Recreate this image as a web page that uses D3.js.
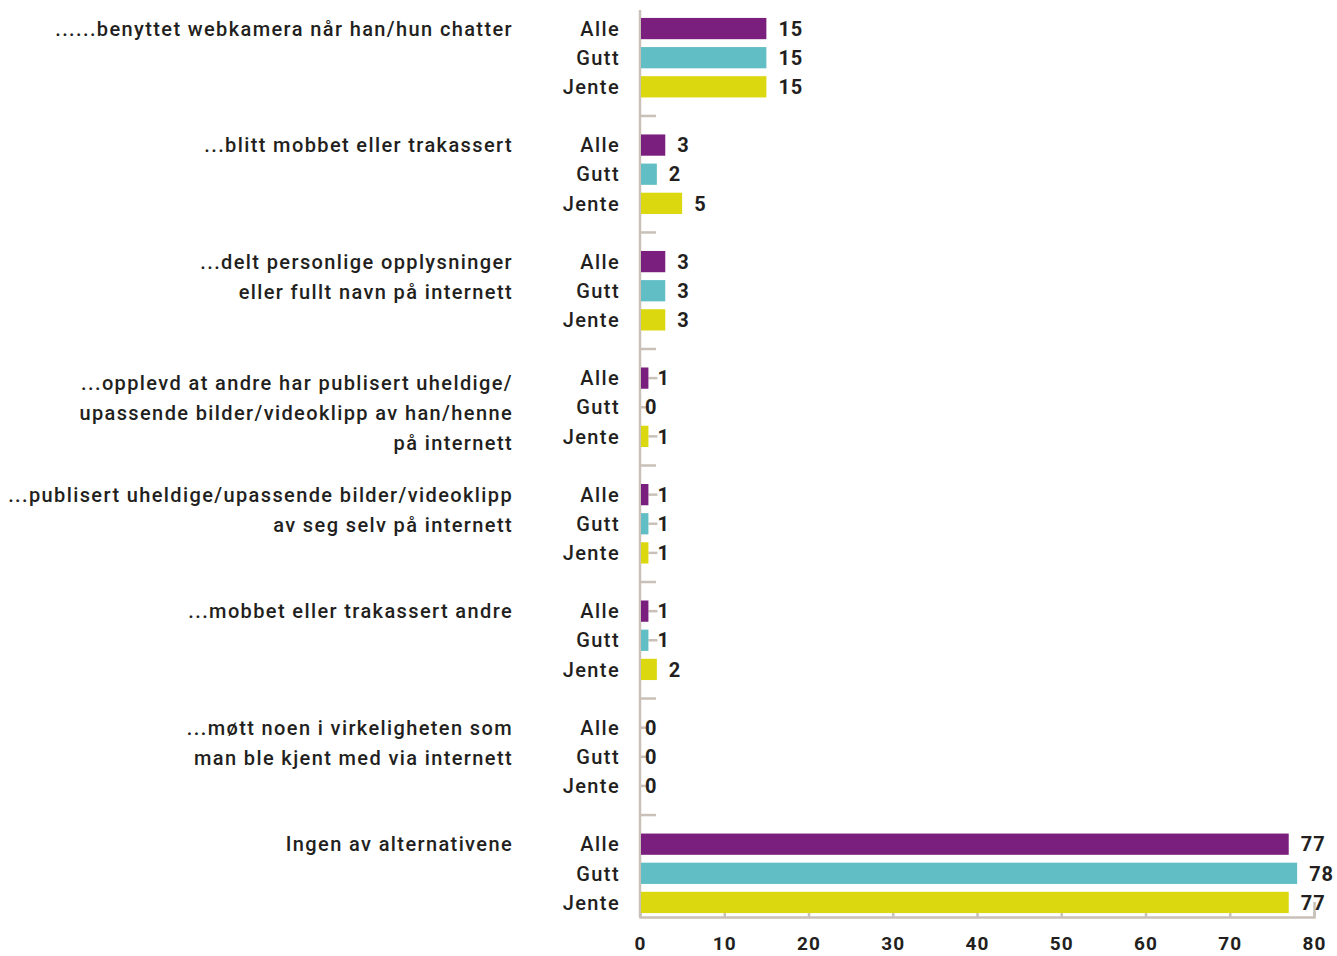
<!DOCTYPE html>
<html>
<head>
<meta charset="utf-8">
<script src="https://cdn.jsdelivr.net/npm/d3@7"></script>
<style>
  body { margin: 0; background: #fff; }
  text { font-family: Roboto, "Open Sans", sans-serif; fill: #231f20; }
</style>
</head>
<body>
<svg></svg>
<script>
// data
var categories = [
  ["......benyttet webkamera når han/hun chatter"],
  ["...blitt mobbet eller trakassert"],
  ["...delt personlige opplysninger", "eller fullt navn på internett"],
  ["...opplevd at andre har publisert uheldige/", "upassende bilder/videoklipp av han/henne", "på internett"],
  ["...publisert uheldige/upassende bilder/videoklipp", "av seg selv på internett"],
  ["...mobbet eller trakassert andre"],
  ["...møtt noen i virkeligheten som", "man ble kjent med via internett"],
  ["Ingen av alternativene"]
];
var seriesNames = ["Alle", "Gutt", "Jente"];
var alle  = [15, 3, 3, 1, 1, 1, 0, 77];
var gutt  = [15, 2, 3, 0, 1, 1, 0, 78];
var jente = [15, 5, 3, 1, 1, 2, 0, 77];
var tickValues = [0, 10, 20, 30, 40, 50, 60, 70, 80];

var colors = ["#7b1f7e", "#62bec5", "#dcd80f"];
var axisColor = "#c9c0b8";

var svgWidth = 1337, svgHeight = 956;
var svg = d3.select("svg").attr("width", svgWidth).attr("height", svgHeight);

var series = [alle, gutt, jente];
var rows = [];
categories.forEach(function(c, g) {
  series.forEach(function(s, i) {
    rows.push({ g: g, s: i, slot: g * 4 + i, value: s[g] });
  });
});

var nSlots = categories.length * 4 - 1;
var x = d3.scaleLinear().domain([0, 80]).range([640, 1314]);
var y = d3.scaleBand().domain(d3.range(nSlots)).range([14, 917])
  .paddingInner(0.27).paddingOuter(0.135);
function yc(slot) { return y(slot) + y.bandwidth() / 2; }

// vertical axis line
svg.append("line")
  .attr("x1", 640).attr("x2", 640).attr("y1", 10).attr("y2", 917)
  .attr("stroke", axisColor).attr("stroke-width", 2.5);

// small separators between groups
svg.selectAll(".sep")
  .data(d3.range(categories.length - 1))
  .enter()
  .append("line")
  .attr("x1", 640).attr("x2", 656)
  .attr("y1", function(g) { return y(g * 4 + 3) + y.bandwidth() / 2; })
  .attr("y2", function(g) { return y(g * 4 + 3) + y.bandwidth() / 2; })
  .attr("stroke", axisColor).attr("stroke-width", 2.5);

// bottom axis
var xAxis = d3.axisBottom(x).tickValues(tickValues)
  .tickSize(-5).tickSizeOuter(-15).tickPadding(20);
var ax = svg.append("g").attr("transform", "translate(0,917)").call(xAxis);
ax.select(".domain").attr("stroke", axisColor).attr("stroke-width", 2.5);
ax.selectAll(".tick line").attr("stroke", axisColor).attr("stroke-width", 2.5);
ax.selectAll(".tick text")
  .style("font-family", "Roboto, sans-serif")
  .attr("font-size", 19).attr("font-weight", 700)
  .attr("letter-spacing", 1)
  .attr("fill", "#231f20");

// leader lines for tiny values
svg.selectAll(".lead")
  .data(rows.filter(function(d) { return d.value <= 1; }))
  .enter()
  .append("line")
  .attr("x1", function(d) { return x(d.value); })
  .attr("x2", function(d) { return x(d.value) + 9; })
  .attr("y1", function(d) { return yc(d.slot); })
  .attr("y2", function(d) { return yc(d.slot); })
  .attr("stroke", axisColor).attr("stroke-width", 2.5);

// bars
svg.selectAll(".bar")
  .data(rows)
  .enter()
  .append("rect")
  .attr("class", "bar")
  .attr("x", x(0) + 1)
  .attr("y", function(d) { return y(d.slot); })
  .attr("width", function(d) { return Math.max(0, x(d.value) - x(0) - 1); })
  .attr("height", y.bandwidth())
  .attr("fill", function(d) { return colors[d.s]; });

// value labels
svg.selectAll(".val")
  .data(rows)
  .enter()
  .append("text")
  .attr("x", function(d) { return x(d.value) + (d.value === 0 ? 5 : (d.value <= 1 ? 9 : 12)); })
  .attr("y", function(d) { return yc(d.slot); })
  .attr("dy", "0.36em")
  .attr("font-size", 20).attr("font-weight", 700)
  .attr("letter-spacing", 1)
  .text(function(d) { return d.value; });

// series labels
svg.selectAll(".ser")
  .data(rows)
  .enter()
  .append("text")
  .attr("x", 620)
  .attr("y", function(d) { return yc(d.slot); })
  .attr("dy", "0.36em")
  .attr("text-anchor", "end")
  .attr("font-size", 20).attr("font-weight", 500)
  .attr("letter-spacing", 1.4)
  .text(function(d) { return seriesNames[d.s]; });

// category labels
categories.forEach(function(lines, g) {
  var off = lines.length === 3 ? 5 : 0;
  lines.forEach(function(line, i) {
    svg.append("text")
      .attr("x", 513)
      .attr("y", yc(g * 4) + off + i * 30)
      .attr("dy", "0.36em")
      .attr("text-anchor", "end")
      .attr("font-size", 20).attr("font-weight", 500)
      .attr("letter-spacing", 1.38)
      .text(line);
  });
});
</script>
</body>
</html>
